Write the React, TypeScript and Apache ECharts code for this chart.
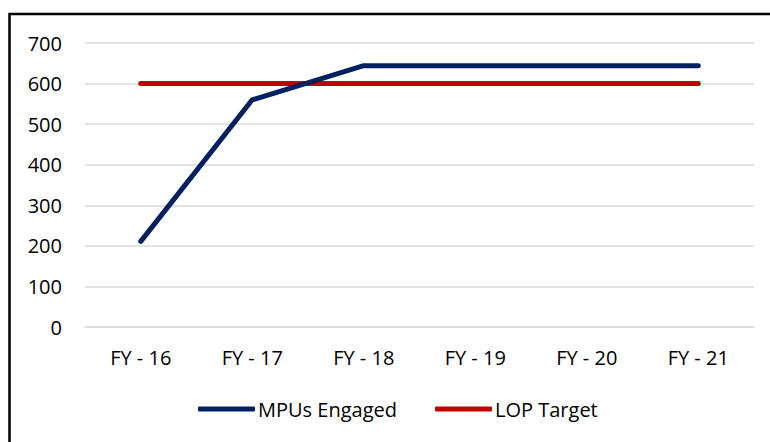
import React, { useEffect, useRef } from "react";
import * as echarts from "echarts";

const categories = ["FY - 16", "FY - 17", "FY - 18", "FY - 19", "FY - 20", "FY - 21"];
const mpusEngaged = [211, 560, 644, 644, 644, 644];
const lopTarget = [600, 600, 600, 600, 600, 600];
const seriesNames = ["MPUs Engaged", "LOP Target"];

const FONT = "'Open Sans', 'Noto Sans', sans-serif";

export default function App() {
  const ref = useRef<HTMLDivElement>(null);
  useEffect(() => {
    if (!ref.current) return;
    const chart = echarts.init(ref.current, undefined, { renderer: "svg" });
    chart.setOption({
      animation: false,
      backgroundColor: "#fff",
      textStyle: { fontFamily: FONT, color: "#000" },
      graphic: [
        {
          type: "rect",
          shape: { x: 9.5, y: 14, width: 800, height: 470 },
          style: { fill: "none", stroke: "#000", lineWidth: 2.5 },
          silent: true,
        },
      ],
      grid: { left: 85, right: 16, top: 43, bottom: 115, containLabel: false },
      legend: {
        bottom: 18,
        left: 193,
        itemWidth: 57,
        itemHeight: 5,
        itemGap: 38,
        icon: "roundRect",
        textStyle: { fontFamily: FONT, fontSize: 20, color: "#000", padding: [0, 0, 0, -2] },
        data: seriesNames,
      },
      xAxis: {
        type: "category",
        data: categories,
        boundaryGap: true,
        axisLine: { lineStyle: { color: "#d9d9d9", width: 1.5 } },
        axisTick: { length: 6, lineStyle: { color: "#d9d9d9", width: 1.5 } },
        axisLabel: { fontFamily: FONT, fontSize: 20, color: "#000", margin: 20 },
      },
      yAxis: {
        type: "value",
        min: 0,
        max: 700,
        interval: 100,
        axisLine: { show: false },
        axisTick: { show: false },
        splitLine: { lineStyle: { color: "#d9d9d9", width: 1.5 } },
        axisLabel: { fontFamily: FONT, fontSize: 20, color: "#000", margin: 23 },
      },
      series: [
        {
          name: seriesNames[0],
          type: "line",
          data: mpusEngaged,
          symbol: "none",
          color: "#002060",
          lineStyle: { color: "#002060", width: 5, cap: "round", join: "round" },
          z: 3,
        },
        {
          name: seriesNames[1],
          type: "line",
          data: lopTarget,
          symbol: "none",
          color: "#C00000",
          lineStyle: { color: "#C00000", width: 5, cap: "round", join: "round" },
          z: 2,
        },
      ],
    });
    return () => chart.dispose();
  }, []);
  return (
    <div
      ref={ref}
      style={{ position: "fixed", left: 0, top: 0, width: 770, height: 442 }}
    />
  );
}
